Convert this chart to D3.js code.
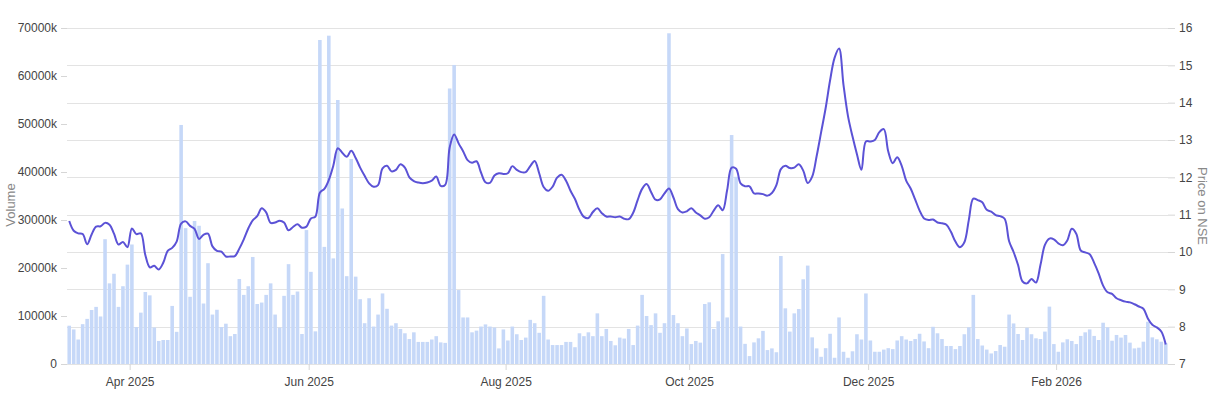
<!DOCTYPE html>
<html>
<head>
<meta charset="utf-8">
<script src="https://cdn.jsdelivr.net/npm/d3@7"></script>
<style>
  body { margin: 0; background: #fff; }
  text { font-family: Arial, "Liberation Sans", sans-serif; }
</style>
</head>
<body>
<svg id="chart"></svg>
<script>
// daily volume, in thousands
const volume = [
  7980, 7200, 5100, 8300, 9400, 11250, 11900, 9900, 26000, 16800,
  18800, 11900, 16200, 20700, 24900, 7700, 10700, 15000, 14300, 7600,
  4800, 5000, 5000, 12100, 6700, 49800, 28300, 14000, 29800, 28800,
  12600, 21000, 10300, 11300, 7700, 8400, 5800, 6250, 17700, 14400,
  16200, 22300, 12500, 12800, 14400, 16800, 10300, 7600, 14200, 20800,
  14400, 15100, 6250, 27900, 19200, 6800, 67500, 24400, 68400, 22000,
  55000, 32400, 18300, 42700, 18200, 13500, 8500, 13700, 7800, 10300,
  14700, 11500, 8000, 8500, 7300, 6400, 5200, 6600, 4600, 4600,
  4600, 5100, 5800, 4500, 4400, 57400, 62300, 15400, 9700, 9700,
  6600, 6950, 7800, 8250, 7800, 7600, 3250, 7200, 4900, 7800,
  6200, 5000, 5500, 9200, 8500, 6500, 14200, 5100, 3950, 3950,
  3950, 4600, 4600, 3500, 6400, 5800, 6600, 5800, 10550, 5800,
  7300, 4800, 3900, 5500, 5300, 7300, 3950, 8000, 14400, 10000,
  8100, 10550, 6500, 8500, 68900, 10200, 8500, 5800, 7400, 4150,
  4800, 4450, 12500, 12850, 7300, 8900, 22900, 9700, 47700, 39000,
  7800, 4200, 1650, 4500, 5350, 6900, 2900, 3250, 2450, 22500,
  11600, 6750, 10550, 11450, 17650, 20500, 5550, 3250, 1500, 3300,
  6300, 1300, 9700, 2550, 1300, 2650, 6200, 5100, 14700, 4900,
  2550, 2550, 3000, 3300, 3100, 4900, 5800, 5100, 4800, 5200,
  6300, 4700, 3300, 7750, 6400, 5200, 3750, 3750, 3100, 3750,
  6200, 7650, 14400, 5200, 3850, 3000, 2200, 2700, 3950, 3600,
  10300, 8450, 6250, 5000, 7550, 6200, 5350, 5200, 6750, 11950,
  4150, 2550, 4500, 5150, 4800, 4150, 5850, 6600, 7200, 5850,
  5000, 8600, 7650, 4850, 6050, 5500, 6050, 4450, 3250, 3400,
  4650, 8800, 5550, 5150, 4650, 4300
];

// closing price on NSE
const price = [
  10.83, 10.57, 10.50, 10.48, 10.21, 10.47, 10.68, 10.69, 10.78, 10.73,
  10.49, 10.20, 10.27, 10.13, 10.63, 10.48, 10.50, 9.92, 9.59, 9.63,
  9.53, 9.71, 10.03, 10.11, 10.28, 10.76, 10.82, 10.70, 10.62, 10.35,
  10.46, 10.49, 10.15, 10.03, 10.01, 9.88, 9.88, 9.89, 10.09, 10.34,
  10.63, 10.85, 10.96, 11.17, 11.06, 10.78, 10.79, 10.84, 10.79, 10.58,
  10.67, 10.74, 10.65, 10.68, 10.90, 10.95, 11.59, 11.69, 11.93, 12.31,
  12.78, 12.66, 12.55, 12.71, 12.52, 12.26, 12.04, 11.84, 11.75, 11.79,
  12.24, 12.31, 12.16, 12.20, 12.35, 12.26, 12.00, 11.90, 11.86, 11.84,
  11.86, 11.91, 12.02, 11.77, 11.80, 12.80, 13.15, 12.91, 12.70, 12.46,
  12.39, 12.43, 12.13, 11.87, 11.85, 12.05, 12.11, 12.09, 12.11, 12.30,
  12.20, 12.14, 12.14, 12.30, 12.44, 12.11, 11.74, 11.64, 11.75, 11.99,
  12.07, 11.91, 11.64, 11.42, 11.13, 10.94, 10.91, 11.07, 11.17, 11.04,
  10.95, 10.95, 10.93, 10.95, 10.89, 10.88, 11.05, 11.39, 11.69, 11.82,
  11.61, 11.40, 11.41, 11.57, 11.70, 11.46, 11.15, 11.06, 11.09, 11.17,
  11.06, 10.98, 10.89, 10.93, 11.11, 11.25, 11.12, 11.66, 12.26, 12.23,
  11.84, 11.76, 11.76, 11.57, 11.57, 11.55, 11.51, 11.58, 11.79, 12.22,
  12.31, 12.25, 12.26, 12.35, 12.18, 11.85, 12.02, 12.57, 13.21, 13.85,
  14.60, 15.20, 15.45, 14.47, 13.64, 13.10, 12.62, 12.20, 12.96, 12.96,
  13.00, 13.21, 13.29, 12.69, 12.38, 12.54, 12.31, 11.91, 11.70, 11.41,
  11.11, 10.90, 10.86, 10.87, 10.79, 10.77, 10.73, 10.54, 10.28, 10.13,
  10.26, 10.86, 11.43, 11.39, 11.33, 11.13, 11.08, 10.99, 10.96, 10.89,
  10.29, 10.00, 9.65, 9.21, 9.16, 9.28, 9.18, 9.65, 10.19, 10.36,
  10.34, 10.23, 10.18, 10.31, 10.62, 10.49, 10.04, 9.99, 9.94, 9.71,
  9.43, 9.10, 8.92, 8.88, 8.76, 8.71, 8.67, 8.65, 8.60, 8.54,
  8.48, 8.22, 8.05, 7.98, 7.87, 7.52
];

// first trading day of each labelled month (index into the series)
const monthIdx = [14, 54, 98, 139, 179, 221];
const monthLabels = ["Apr 2025", "Jun 2025", "Aug 2025", "Oct 2025", "Dec 2025", "Feb 2026"];
const volTicks = [0, 10000, 20000, 30000, 40000, 50000, 60000, 70000];
const priceTicks = [7, 8, 9, 10, 11, 12, 13, 14, 15, 16];

const W = 1218, H = 396;
const plotLeft = 67, plotRight = 1168, plotTop = 28, plotBottom = 364;
const n = volume.length;

const svg = d3.select("#chart").attr("width", W).attr("height", H);

const x = d3.scaleBand().domain(d3.range(n)).range([plotLeft, plotRight])
  .paddingInner(0.2).paddingOuter(0.1);
const xi = d3.scaleLinear().domain([0, n]).range([plotLeft, plotRight]);
const yVol = d3.scaleLinear().domain([0, 70000]).range([plotBottom, plotTop]);
const yPrice = d3.scaleLinear().domain([7, 16]).range([plotBottom, plotTop]);

// gridlines follow the price ticks
svg.append("g")
  .selectAll("line")
  .data(priceTicks)
  .join("line")
  .attr("x1", plotLeft)
  .attr("x2", plotRight)
  .attr("y1", d => Math.round(yPrice(d)) + 0.5)
  .attr("y2", d => Math.round(yPrice(d)) + 0.5)
  .attr("stroke", "#e3e3e3");

svg.append("g")
  .selectAll("rect")
  .data(volume)
  .join("rect")
  .attr("x", (d, i) => x(i))
  .attr("width", x.bandwidth())
  .attr("y", d => yVol(d))
  .attr("height", d => plotBottom - yVol(d))
  .attr("fill", "#c6d8f8");

const line = d3.line()
  .x((d, i) => x(i) + x.bandwidth() / 2)
  .y(d => yPrice(d))
  .curve(d3.curveCatmullRom.alpha(0.5));

svg.append("path")
  .datum(price)
  .attr("d", line)
  .attr("fill", "none")
  .attr("stroke", "#5b52d6")
  .attr("stroke-width", 2);

function styleAxis(g) {
  g.select(".domain").remove();
  g.selectAll(".tick line").attr("stroke", "#d6d6d6");
  g.selectAll(".tick text").attr("fill", "#444").attr("font-size", 12);
}

svg.append("g")
  .attr("transform", `translate(${plotLeft},0)`)
  .call(d3.axisLeft(yVol).tickValues(volTicks).tickSize(6).tickPadding(4)
    .tickFormat(d => d === 0 ? "0" : d + "k"))
  .call(styleAxis);

svg.append("g")
  .attr("transform", `translate(${plotRight},0)`)
  .call(d3.axisRight(yPrice).tickValues(priceTicks).tickSize(7).tickPadding(4))
  .call(styleAxis);

svg.append("g")
  .attr("transform", `translate(0,${plotBottom})`)
  .call(d3.axisBottom(xi).tickValues(monthIdx).tickSize(6).tickPadding(7)
    .tickFormat((d, i) => monthLabels[i]))
  .call(styleAxis);

svg.append("text")
  .attr("transform", "translate(15,205) rotate(-90)")
  .attr("text-anchor", "middle")
  .attr("font-size", 13)
  .attr("fill", "#888")
  .text("Volume");

svg.append("text")
  .attr("transform", "translate(1198,206) rotate(90)")
  .attr("text-anchor", "middle")
  .attr("font-size", 13)
  .attr("fill", "#888")
  .text("Price on NSE");
</script>
</body>
</html>
